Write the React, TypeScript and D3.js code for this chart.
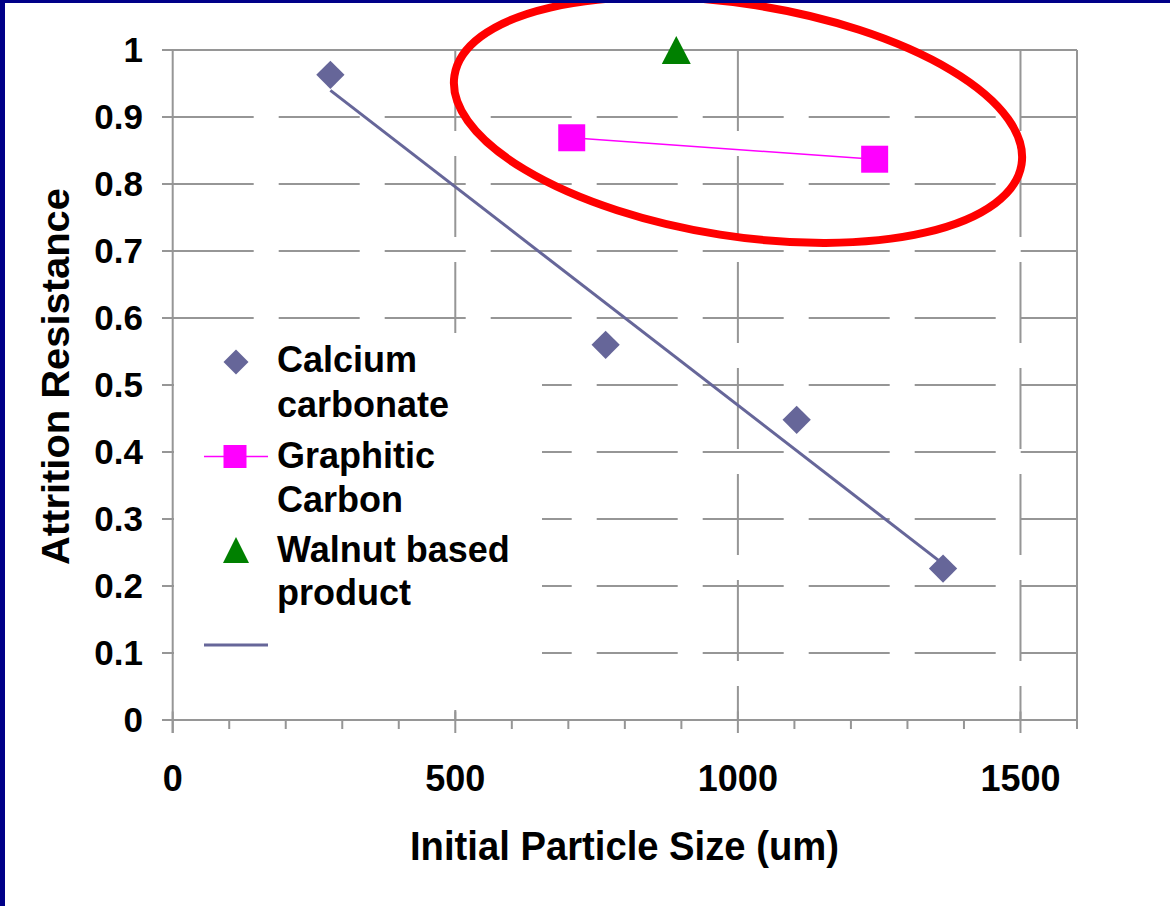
import { useEffect, useRef } from 'react';
import * as d3 from 'd3';

// data
const caco3Size = [279, 766, 1104, 1363];
const caco3Resist = [0.963, 0.56, 0.448, 0.226];
const graphiteSize = [706, 1242];
const graphiteResist = [0.869, 0.837];
const walnutSize = [891];
const walnutResist = [1.0];

const xMajorTicks = [0, 500, 1000, 1500];
const xMinorTicks = [100, 200, 300, 400, 600, 700, 800, 900, 1100, 1200, 1300, 1400, 1600];
const yTicks = [0, 0.1, 0.2, 0.3, 0.4, 0.5, 0.6, 0.7, 0.8, 0.9, 1];
const yTickLabels = ['0', '0.1', '0.2', '0.3', '0.4', '0.5', '0.6', '0.7', '0.8', '0.9', '1'];
const legendLabels = [
  ['Calcium', 'carbonate'],
  ['Graphitic', 'Carbon'],
  ['Walnut based', 'product'],
];

const FONT = '"Liberation Sans", Arial, sans-serif';
const GRID = '#969696';
const PURPLE = '#666699';
const MAGENTA = '#ff00ff';
const GREEN = '#008000';

const W = 1170;
const H = 906;

const App = () => {
  const svgRef = useRef<SVGSVGElement>(null);

  useEffect(() => {
    const root = d3.select(svgRef.current);
    root.selectAll('*').remove();
    const svg = root.attr('width', W).attr('height', H);

    svg.append('rect').attr('width', W).attr('height', H).attr('fill', '#fff');

    const x = d3.scaleLinear().domain([0, 1600]).range([172.7, 1077]);
    const y = d3.scaleLinear().domain([0, 1]).range([720, 50]);

    // horizontal dashed grid
    svg.append('g')
      .selectAll('line')
      .data(yTicks.filter(t => t > 0 && t < 1))
      .enter()
      .append('line')
      .attr('x1', x(0)).attr('x2', x(1600))
      .attr('y1', d => y(d)).attr('y2', d => y(d))
      .attr('stroke', GRID).attr('stroke-width', 2)
      .attr('stroke-dasharray', '81 25');

    // vertical dashed grid
    svg.append('g')
      .selectAll('line')
      .data(xMajorTicks.filter(t => t > 0))
      .enter()
      .append('line')
      .attr('x1', d => x(d)).attr('x2', d => x(d))
      .attr('y1', y(1)).attr('y2', y(0))
      .attr('stroke', GRID).attr('stroke-width', 2)
      .attr('stroke-dasharray', '81 25');

    // solid frame: top, right, left axis, bottom axis
    const frame = svg.append('g').attr('stroke', GRID).attr('stroke-width', 2);
    frame.append('line').attr('x1', x(0) - 10.7).attr('x2', x(1600)).attr('y1', y(1)).attr('y2', y(1));
    frame.append('line').attr('x1', x(1600)).attr('x2', x(1600)).attr('y1', y(1)).attr('y2', y(0));
    frame.append('line').attr('x1', x(0)).attr('x2', x(0)).attr('y1', y(1)).attr('y2', y(0) + 13);
    frame.append('line').attr('x1', x(0) - 10.7).attr('x2', x(1600)).attr('y1', y(0)).attr('y2', y(0));

    // y ticks
    frame.selectAll('.ytick')
      .data(yTicks)
      .enter()
      .append('line')
      .attr('x1', x(0) - 10.7).attr('x2', x(0))
      .attr('y1', d => y(d)).attr('y2', d => y(d));

    // x ticks
    frame.selectAll('.xmajor')
      .data(xMajorTicks)
      .enter()
      .append('line')
      .attr('x1', d => x(d)).attr('x2', d => x(d))
      .attr('y1', y(0) - 8.5).attr('y2', y(0) + 13);
    frame.selectAll('.xminor')
      .data(xMinorTicks)
      .enter()
      .append('line')
      .attr('x1', d => x(d)).attr('x2', d => x(d))
      .attr('y1', y(0)).attr('y2', y(0) + 9);

    // tick labels
    svg.append('g')
      .selectAll('text')
      .data(yTicks)
      .enter()
      .append('text')
      .attr('x', 143)
      .attr('y', d => y(d) + 12)
      .attr('text-anchor', 'end')
      .attr('font-family', FONT).attr('font-weight', 'bold').attr('font-size', 35)
      .attr('fill', '#000')
      .text((d, i) => yTickLabels[i]);

    svg.append('g')
      .selectAll('text')
      .data(xMajorTicks)
      .enter()
      .append('text')
      .attr('x', d => x(d))
      .attr('y', 791)
      .attr('text-anchor', 'middle')
      .attr('font-family', FONT).attr('font-weight', 'bold').attr('font-size', 36)
      .attr('fill', '#000')
      .text(d => String(d));

    // axis titles
    svg.append('text')
      .attr('x', 624.5).attr('y', 860)
      .attr('text-anchor', 'middle')
      .attr('font-family', FONT).attr('font-weight', 'bold').attr('font-size', 40)
      .attr('textLength', 429).attr('lengthAdjust', 'spacingAndGlyphs')
      .attr('fill', '#000')
      .text('Initial Particle Size (um)');

    svg.append('text')
      .attr('transform', 'translate(69,376.5) rotate(-90)')
      .attr('text-anchor', 'middle')
      .attr('font-family', FONT).attr('font-weight', 'bold').attr('font-size', 39)
      .attr('textLength', 377).attr('lengthAdjust', 'spacingAndGlyphs')
      .attr('fill', '#000')
      .text('Attrition Resistance');

    // linear trendline for calcium carbonate
    const mx = d3.mean(caco3Size) as number;
    const my = d3.mean(caco3Resist) as number;
    const sxy = d3.sum(caco3Size, (v, i) => (v - mx) * (caco3Resist[i] - my));
    const sxx = d3.sum(caco3Size, v => (v - mx) ** 2);
    const slope = sxy / sxx;
    const icpt = my - slope * mx;
    const trendX = d3.extent(caco3Size) as [number, number];
    svg.append('path')
      .datum(trendX)
      .attr('d', d3.line<number>().x(v => x(v)).y(v => y(icpt + slope * v)))
      .attr('fill', 'none').attr('stroke', PURPLE).attr('stroke-width', 3);

    // graphitic carbon line
    svg.append('path')
      .datum(graphiteSize.map((v, i) => [v, graphiteResist[i]] as [number, number]))
      .attr('d', d3.line<[number, number]>().x(d => x(d[0])).y(d => y(d[1])))
      .attr('fill', 'none').attr('stroke', MAGENTA).attr('stroke-width', 1.5);

    const diamond = d3.symbol().type(d3.symbolSquare);
    const square = d3.symbol().type(d3.symbolSquare);
    const tri = (w: number, h: number) => `M0,${-h / 2}L${w / 2},${h / 2}L${-w / 2},${h / 2}Z`;

    svg.append('g')
      .selectAll('path')
      .data(caco3Size)
      .enter()
      .append('path')
      .attr('d', diamond.size(400)())
      .attr('transform', (d, i) => `translate(${x(d)},${y(caco3Resist[i])}) rotate(45)`)
      .attr('fill', PURPLE);

    svg.append('g')
      .selectAll('path')
      .data(graphiteSize)
      .enter()
      .append('path')
      .attr('d', square.size(729)())
      .attr('transform', (d, i) => `translate(${x(d)},${y(graphiteResist[i])})`)
      .attr('fill', MAGENTA);

    svg.append('g')
      .selectAll('path')
      .data(walnutSize)
      .enter()
      .append('path')
      .attr('d', tri(29, 28))
      .attr('transform', (d, i) => `translate(${x(d)},${y(walnutResist[i])})`)
      .attr('fill', GREEN);

    // legend
    const lg = svg.append('g');
    lg.append('rect').attr('x', 174).attr('y', 333).attr('width', 368).attr('height', 377).attr('fill', '#fff');
    lg.append('path').attr('d', diamond.size(312)())
      .attr('transform', 'translate(236,362) rotate(45)').attr('fill', PURPLE);
    lg.append('line').attr('x1', 204).attr('x2', 268).attr('y1', 456.5).attr('y2', 456.5)
      .attr('stroke', MAGENTA).attr('stroke-width', 1.5);
    lg.append('path').attr('d', square.size(529)())
      .attr('transform', 'translate(235,456.5)').attr('fill', MAGENTA);
    lg.append('path').attr('d', tri(26, 26))
      .attr('transform', 'translate(236,550)').attr('fill', GREEN);
    lg.append('line').attr('x1', 204).attr('x2', 268).attr('y1', 645).attr('y2', 645)
      .attr('stroke', PURPLE).attr('stroke-width', 3);

    const baselines = [[372, 417], [468, 512], [562, 605]];
    legendLabels.forEach((lines, i) => {
      lines.forEach((t, j) => {
        lg.append('text')
          .attr('x', 277).attr('y', baselines[i][j])
          .attr('font-family', FONT).attr('font-weight', 'bold').attr('font-size', 36)
          .attr('fill', '#000')
          .text(t);
      });
    });

    // red highlight ellipse
    svg.append('ellipse')
      .attr('cx', 0).attr('cy', 0).attr('rx', 287).attr('ry', 116)
      .attr('transform', 'translate(738,120) rotate(8.9)')
      .attr('fill', 'none').attr('stroke', '#ff0000').attr('stroke-width', 8);

    // slide border (top and left)
    svg.append('rect').attr('x', 0).attr('y', 0).attr('width', W).attr('height', 3).attr('fill', '#000088');
    svg.append('rect').attr('x', 0).attr('y', 0).attr('width', 5).attr('height', H).attr('fill', '#000088');
  }, []);

  return (
    <div style={{ position: 'absolute', left: 0, top: 0, width: W, height: H, overflow: 'hidden' }}>
      <svg ref={svgRef} style={{ display: 'block' }}></svg>
    </div>
  );
};

export default App;
